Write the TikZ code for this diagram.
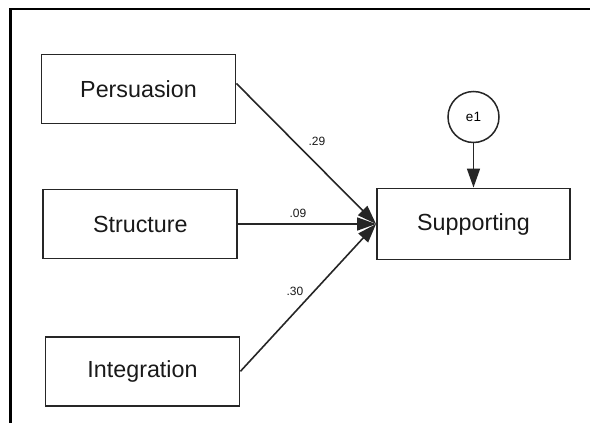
\documentclass[tikz,border=0pt]{standalone}
\usepackage{fontspec}
\setmainfont{Liberation Sans}
\usetikzlibrary{arrows.meta}
\begin{document}
\begin{tikzpicture}[x=1pt,y=-1pt,
  obs/.style={draw=black!85, line width=1.9pt, minimum width=194pt, minimum height=69pt,
              inner sep=0pt, font=\fontsize{23.3}{27}\selectfont, text=black!90},
  err/.style={circle, draw=black!85, line width=1.5pt, minimum size=51pt, inner sep=0pt,
              font=\fontsize{13.5}{16}\selectfont},
  path/.style={line width=1.6pt, draw=black!85, -{Triangle[length=19pt,width=13pt]}},
  coef/.style={font=\fontsize{12}{14}\selectfont, text=black!90}]
  \useasboundingbox (0,0) rectangle (590,423);
  % open frame: top and left sides only
  \draw[line width=2.6pt, black] (10.3,423) -- (10.3,9) -- (590,9);

  \node[obs] (pers) at (138.5,89) {Persuasion};
  \node[obs] (struc) at (140.3,224) {Structure};
  \node[obs] (integ) at (142.5,371.3) {Integration};
  \node[obs, minimum width=193pt, minimum height=71pt] (supp) at (473.5,224) {Supporting};
  \node[err] (e1) at (473.5,117) {e1};

  \draw[path] ([yshift=5.5pt]pers.east) -- (supp.west);
  \draw[path] (struc.east) -- (supp.west);
  \draw[path] (integ.east) -- (supp.west);
  \draw[path] (e1.south) -- (supp.north);

  \node[coef] (c1) at (317,141) {.29};
  \node[coef] (c2) at (298,213) {.09};
  \node[coef] (c3) at (295,291) {.30};
\end{tikzpicture}
\end{document}
